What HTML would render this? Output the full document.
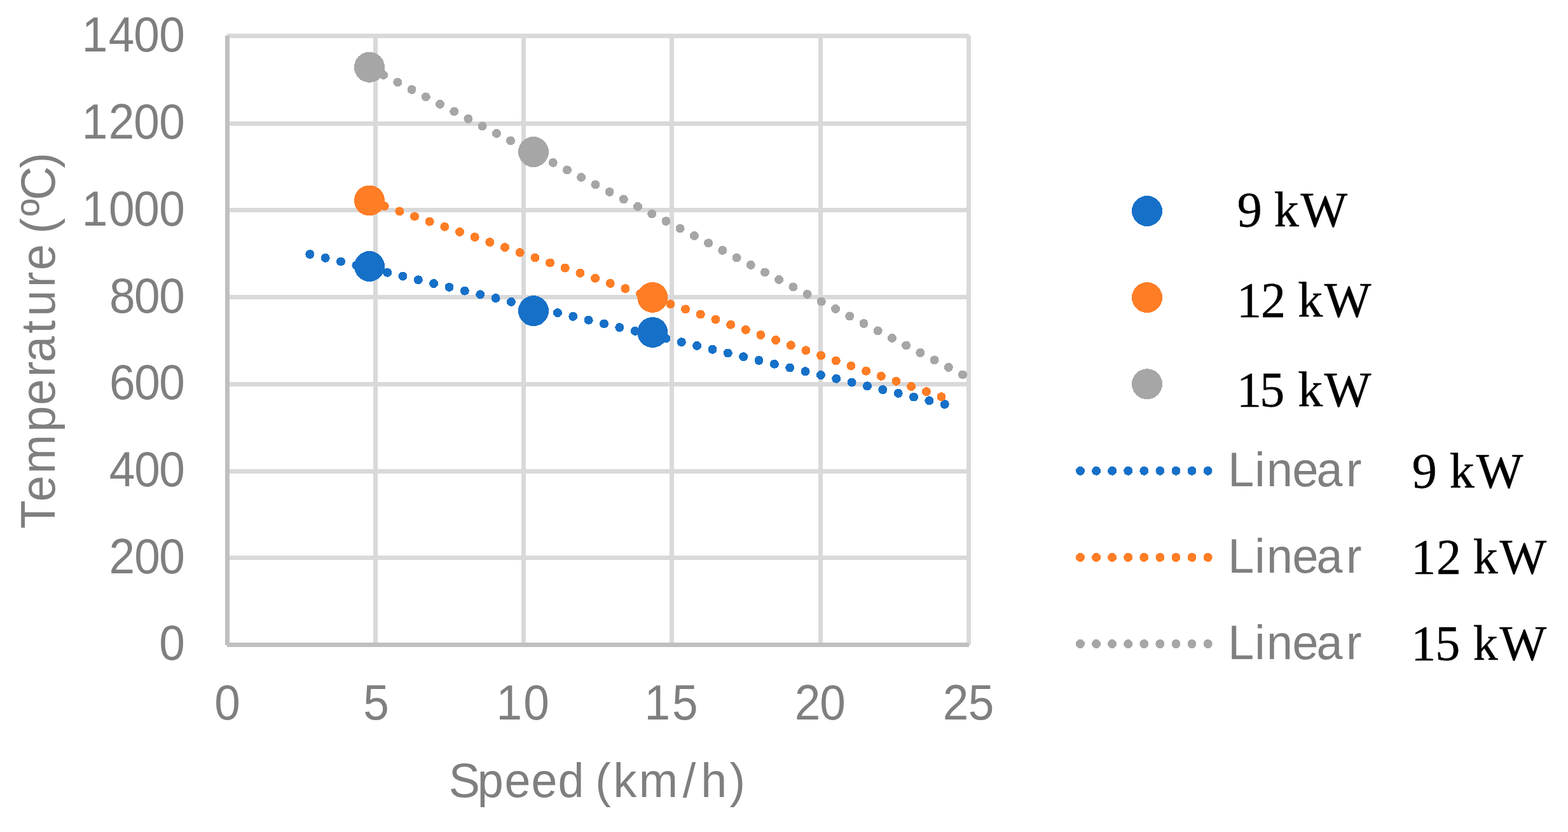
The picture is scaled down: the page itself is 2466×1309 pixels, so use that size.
<!DOCTYPE html>
<html lang="en">
<head>
<meta charset="utf-8">
<title>Temperature vs. Speed</title>
<style>
html,body{margin:0;padding:0;background:#ffffff;}
body{width:2466px;height:1309px;overflow:hidden;}
svg{display:block;}
text{white-space:pre;}
.sans{font-family:"Liberation Sans", Arial, Helvetica, sans-serif;font-size:76px;fill:#7F7F7F;}
.tick{font-family:"Liberation Sans", Arial, Helvetica, sans-serif;font-size:78.5px;fill:#7F7F7F;}
.serif{font-family:"Liberation Serif", "Times New Roman", Times, serif;font-size:78px;fill:#000000;stroke:#000000;stroke-width:0.5px;}
.grid{fill:#D9D9D9;shape-rendering:crispEdges;}
.axis{fill:#BFBFBF;shape-rendering:crispEdges;}
.trend{fill:none;stroke-width:14;stroke-linecap:round;shape-rendering:crispEdges;}
circle{shape-rendering:crispEdges;}
</style>
</head>
<body>
<svg width="2466" height="1309" viewBox="0 0 2466 1309">
<rect x="0" y="0" width="2466" height="1309" fill="#ffffff"/>
<!-- gridlines -->
<g class="grid">
<rect x="357" y="53" width="1167" height="7"/>
<rect x="357" y="191" width="1167" height="7"/>
<rect x="357" y="327" width="1167" height="7"/>
<rect x="357" y="464" width="1167" height="7"/>
<rect x="357" y="601" width="1167" height="7"/>
<rect x="357" y="738" width="1167" height="7"/>
<rect x="357" y="874" width="1167" height="7"/>
<rect x="587" y="56" width="7" height="959"/>
<rect x="820" y="56" width="7" height="959"/>
<rect x="1053" y="56" width="7" height="959"/>
<rect x="1287" y="56" width="7" height="959"/>
<rect x="1520" y="56" width="7" height="959"/>
</g>
<!-- axes -->
<g class="axis">
<rect x="354" y="56" width="7" height="959"/>
<rect x="357" y="1011" width="1167" height="7"/>
</g>
<!-- linear trendlines -->
<line class="trend" stroke="#1670C8" x1="487.40" y1="400.00" x2="1485.75" y2="636.11" stroke-dasharray="0 25.0205"/>
<line class="trend" stroke="#FF7D25" x1="581.00" y1="316.20" x2="1480.55" y2="624.22" stroke-dasharray="0 25.0203"/>
<line class="trend" stroke="#A6A6A6" x1="580.90" y1="106.40" x2="1514.04" y2="589.47" stroke-dasharray="0 25.0171"/>
<!-- data markers -->
<circle cx="581.0" cy="419.0" r="24" fill="#1670C8"/>
<circle cx="839.0" cy="489.1" r="24" fill="#1670C8"/>
<circle cx="1026.4" cy="523.0" r="24" fill="#1670C8"/>
<circle cx="581.0" cy="315.5" r="24" fill="#FF7D25"/>
<circle cx="1026.3" cy="467.9" r="24" fill="#FF7D25"/>
<circle cx="581.0" cy="105.8" r="24" fill="#A6A6A6"/>
<circle cx="839.0" cy="239.0" r="24" fill="#A6A6A6"/>
<!-- y axis tick labels -->
<text class="tick" transform="scale(0.93 1)" x="138.33 183.74 226.02 269.08" y="81">1400</text>
<text class="tick" transform="scale(0.93 1)" x="138.44 183.65 226.02 269.08" y="218">1200</text>
<text class="tick" transform="scale(0.93 1)" x="138.44 183.87 226.02 269.08" y="355">1000</text>
<text class="tick" transform="scale(0.93 1)" x="185.05 226.99 269.08" y="492">800</text>
<text class="tick" transform="scale(0.93 1)" x="184.87 227.1 269.08" y="628">600</text>
<text class="tick" transform="scale(0.93 1)" x="184.82 227.15 269.08" y="765">400</text>
<text class="tick" transform="scale(0.93 1)" x="184.46 227.15 269.08" y="902">200</text>
<text class="tick" transform="scale(0.93 1)" x="269.08" y="1038">0</text>
<!-- x axis tick labels -->
<text class="tick" transform="scale(0.93 1)" x="362.63" y="1132">0</text>
<text class="tick" transform="scale(0.93 1)" x="614.16" y="1132">5</text>
<text class="tick" transform="scale(0.93 1)" x="839.19 885.21" y="1132">10</text>
<text class="tick" transform="scale(0.93 1)" x="1089.68 1136.58" y="1132">15</text>
<text class="tick" transform="scale(0.93 1)" x="1343.71 1386.29" y="1132">20</text>
<text class="tick" transform="scale(0.93 1)" x="1594.46 1637.39" y="1132">25</text>
<!-- axis titles -->
<text class="sans" transform="scale(0.969 1)" x="728.28 774.66 818.83 862.22 905.47 947.74 966.17 995.31 1036.95 1108.17 1137.63 1184.16" y="1253.9">Speed (km/h)</text>
<text class="sans" transform="translate(85.9 828.9) rotate(-90) scale(0.969 1)" x="-3.12 40.86 86.34 154.23 197.62 243.35 267.24 314.22 341.98 388.91 416.45 458.72 476.08 504.66 530.43 582.2" y="0">Temperature (ºC)</text>
<!-- legend -->
<circle cx="1804" cy="332.0" r="24" fill="#1670C8"/>
<circle cx="1804" cy="468.1" r="24" fill="#FF7D25"/>
<circle cx="1804" cy="604.2" r="24" fill="#A6A6A6"/>
<line class="trend" stroke="#1670C8" x1="1699.0" y1="740.8" x2="1899.7" y2="740.8" stroke-dasharray="0 25.08"/>
<line class="trend" stroke="#FF7D25" x1="1699.0" y1="876.9" x2="1899.7" y2="876.9" stroke-dasharray="0 25.08"/>
<line class="trend" stroke="#A6A6A6" x1="1699.0" y1="1013.0" x2="1899.7" y2="1013.0" stroke-dasharray="0 25.08"/>
<text class="serif" transform="scale(1 1)" x="1945.79 1984.79 2003.66 2045.58" y="356.4">9 kW</text>
<text class="serif" transform="scale(1 1)" x="1945.11 1982.99 2021.99 2041.26 2082.63" y="497.6">12 kW</text>
<text class="serif" transform="scale(1 1)" x="1945.11 1981.36 2020.36 2041.26 2082.63" y="638.7">15 kW</text>
<text class="sans" transform="scale(0.969 1)" x="1993.06 2036.42 2055.64 2097.62 2136.64 2184.63" y="765">Linear</text>
<text class="sans" transform="scale(0.969 1)" x="1993.06 2036.42 2055.64 2097.62 2136.64 2184.63" y="901.2">Linear</text>
<text class="sans" transform="scale(0.969 1)" x="1993.06 2036.42 2055.64 2097.62 2136.64 2184.63" y="1036.6">Linear</text>
<text class="serif" transform="scale(1 1)" x="2220.74 2259.74 2279.66 2321.68" y="766.6">9 kW</text>
<text class="serif" transform="scale(1 1)" x="2219.36 2258.99 2297.99 2316.71 2358.58" y="902.4">12 kW</text>
<text class="serif" transform="scale(1 1)" x="2219.36 2257.36 2296.36 2316.71 2358.58" y="1038.2">15 kW</text>
</svg>
</body>
</html>
